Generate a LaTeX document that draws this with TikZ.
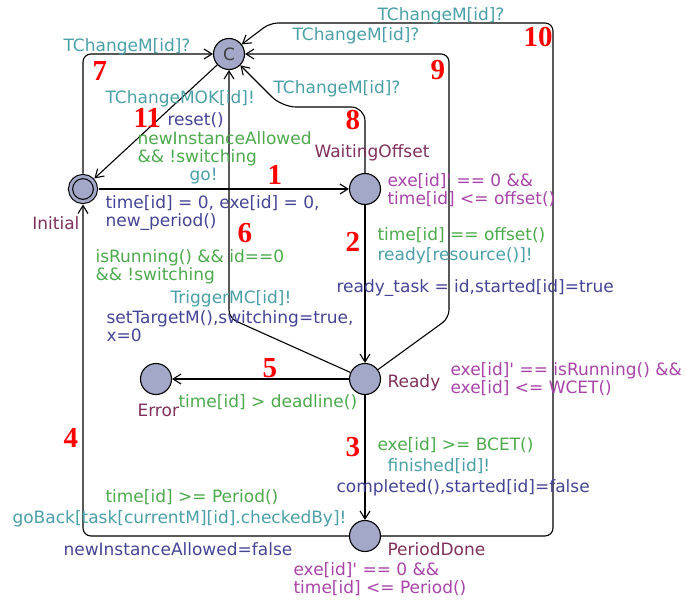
\documentclass[tikz,border=0pt]{standalone}
\usepackage{fontspec}
\setmainfont{DejaVu Sans}
\newfontfamily\numfont{Liberation Serif}
\usetikzlibrary{arrows.meta,automata,positioning}

\definecolor{locfill}{RGB}{163,168,200}
\definecolor{syncc}{RGB}{74,160,166}
\definecolor{guardc}{RGB}{76,170,76}
\definecolor{updc}{RGB}{68,68,150}
\definecolor{namec}{RGB}{128,48,90}
\definecolor{invc}{RGB}{168,68,168}

\tikzset{
  lbl/.style={anchor=north west,inner sep=0pt,align=left,font=\fontsize{17}{18.5}\selectfont},
  sync/.style={lbl,text=syncc},
  guard/.style={lbl,text=guardc},
  upd/.style={lbl,text=updc},
  locname/.style={lbl,text=namec},
  inv/.style={lbl,text=invc},
  num/.style={anchor=north west,inner sep=0pt,text=red,font=\numfont\bfseries\fontsize{29}{29}\selectfont}
}

\begin{document}
\begin{tikzpicture}[->,>={Straight Barb[length=8pt,width=10pt]},line width=1.1pt,x=1pt,y=-1pt,
    on grid,rounded corners=8pt,
    every state/.style={fill=locfill,minimum size=31pt,inner sep=0pt,text=black!75,font=\fontsize{17}{18}\selectfont}]
    \useasboundingbox (0,0) rectangle (686,602);
    % locations
    \node[state,accepting,minimum size=25pt,double=locfill,double distance=3pt,outer sep=3pt] (init) at (83,189) {};
    \node[state] (wait) [right=282pt of init] {};
    \node[state] (ready) [below=190pt of wait] {};
    \node[state] (pd) [below=157pt of ready] {};
    \node[state] (err) [left=209pt of ready] {};
    \node[state] (comm) [above right=135pt and 146pt of init] {C};
    % nails
    \coordinate (b6) at (229,318);
    \coordinate (b8) at (282,107);
    \coordinate (b9) at (449,318);
    \coordinate (b10) at (553,23);
    \coordinate (c10) at (270,23);
    % transitions
    \path
    (init) edge (wait)
    (wait) edge (ready)
    (ready) edge (pd)
    (ready) edge (err)
    (comm) edge (init);
    \draw (pd) -| (init);
    \draw (ready) -- (b6) -- (comm);
    \draw (init) |- (comm);
    \draw[rounded corners=14pt] (wait) |- (b8) -- (comm);
    \draw (ready) -- (b9) |- (comm);
    \draw (pd) -| (b10) -- (c10) -- (comm);
    % location names and invariants
    \node[locname,anchor=north east] (ninit) at (80,216) {Initial};
    \node[locname] (nwait) at (314,144) {WaitingOffset};
    \node[locname] (nerr) at (137,404) {Error};
    \node[locname] (nready) at (387,374) {Ready};
    \node[locname] (npd) at (387,542) {PeriodDone};
    \node[inv] (iwait) at (387,173) {exe[id]\textquotesingle{} == 0 \&\&\\time[id] <= offset()};
    \node[inv] (iready) at (450,362) {exe[id]\textquotesingle{} == isRunning() \&\&\\exe[id] <= WCET()};
    \node[inv] (ipd) at (293,562) {exe[id]\textquotesingle{} == 0 \&\&\\time[id] <= Period()};
    % transition labels
    \node[guard] (l1g) at (137,131) {newInstanceAllowed\\\&\& !switching};
    \node[sync] (l1s) at (189,168) {go!};
    \node[upd] (l1u) at (105,195) {time[id] = 0, exe[id] = 0,\\new\_period()};
    \node[guard] (l2g) at (377,227) {time[id] == offset()};
    \node[sync] (l2s) at (377,247) {ready[resource()]!};
    \node[upd] (l2u) at (336,279) {ready\_task = id,started[id]=true};
    \node[guard] (l3g) at (377,437) {exe[id] >= BCET()};
    \node[sync] (l3s) at (387,458) {finished[id]!};
    \node[upd] (l3u) at (336,479) {completed(),started[id]=false};
    \node[guard] (l4g) at (105,489) {time[id] >= Period()};
    \node[sync] (l4s) at (12,510) {goBack[task[currentM][id].checkedBy]!};
    \node[upd] (l4u) at (63,542) {newInstanceAllowed=false};
    \node[guard] (l5g) at (178,394) {time[id] > deadline()};
    \node[guard] (l6g) at (95,249) {isRunning() \&\& id==0\\\&\& !switching};
    \node[sync] (l6s) at (170,290) {TriggerMC[id]!};
    \node[upd] (l6u) at (106,310) {setTargetM(),switching=true,\\x=0};
    \node[sync] (l7s) at (63,38) {TChangeM[id]?};
    \node[sync] (l8s) at (273,80) {TChangeM[id]?};
    \node[sync] (l9s) at (292,27) {TChangeM[id]?};
    \node[sync] (l10s) at (377,7) {TChangeM[id]?};
    \node[sync] (l11s) at (105,90) {TChangeMOK[id]!};
    \node[upd] (l11u) at (167,112) {reset()};
    % transition numbers
    \node[num] (e1) at (267,165) {1};
    \node[num] (e2) at (345,232) {2};
    \node[num] (e3) at (345,437) {3};
    \node[num] (e4) at (63,428) {4};
    \node[num] (e5) at (262,358) {5};
    \node[num] (e6) at (237,223) {6};
    \node[num] (e7) at (92,61) {7};
    \node[num] (e8) at (345,110) {8};
    \node[num] (e9) at (430,60) {9};
    \node[num] (e10) at (523,27) {10};
    \node[num] (e11) at (133,108) {11};
\end{tikzpicture}
\end{document}
